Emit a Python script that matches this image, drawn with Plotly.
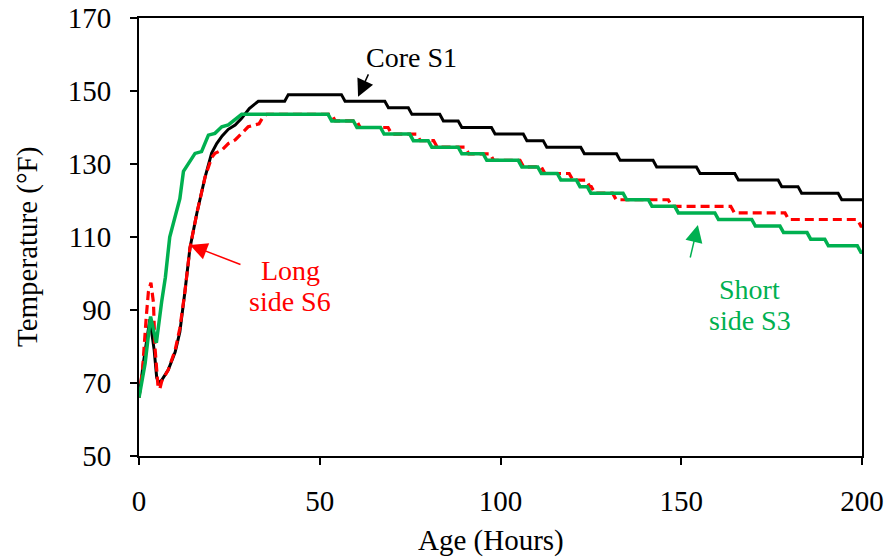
import plotly.graph_objects as go

# ---------------- data ----------------
# Early transient part (hours, °F)
black_rise_h = [0, 1.2, 3.0, 4.2, 4.9, 5.5, 6.3, 8.1, 10, 11.3, 12.7, 14.1, 16, 18.3, 20.1,
                21.5, 23, 24.7, 26.6, 28.4, 30.5, 33, 40.3, 41.3]
black_rise_T = [66, 75.4, 87.5, 79, 71.5, 70, 70.8, 73.6, 78.5, 84, 95, 107, 116.5, 126.5, 133,
                135.6, 137.7, 139.5, 140.7, 142.5, 145.2, 147.2, 147.2, 149]

red_rise_h = [0, 1.0, 2.0, 2.6, 3.3, 4.0, 4.4, 5.3, 5.8, 6.3, 8.1, 10, 11.3, 12.7, 14.1, 16,
              18.3, 20.1, 21, 22.9, 24.7, 26.6, 28.4, 30.2, 32, 33.2, 34.4, 35.3]
red_rise_T = [66, 74, 88, 95, 97.5, 92, 80, 68.5, 68.5, 70.5, 73.6, 79, 85, 95, 107, 116.5,
              126.5, 131.8, 132.9, 133.8, 135.6, 136.6, 138.4, 140.2, 140.7, 141, 143, 143.6]

green_rise_h = [0, 1.7, 3.2, 4.5, 4.8, 6.3, 7.3, 8.5, 10, 11.3, 12.3, 14.1, 15.5, 17.3, 19.2,
                21, 22.9, 24.7, 26.6, 28.4]
green_rise_T = [66, 75.4, 88.2, 81.5, 81, 92.5, 99, 110, 115.5, 120.5, 128, 130.6, 132.9,
                133.4, 137.9, 138.4, 140.2, 140.7, 142.1, 143.6]

# Cooling part: times (hours) at which the reading steps down, and the level after each step
black_drop_h = [56.5, 68.5, 75, 83.7, 88.8, 98, 106.8, 112.3, 122.7, 132.6, 142.7, 154.7,
                165.3, 177.3, 182.8, 193.9]
black_drop_T = [147.2, 145.4, 143.6, 141.8, 140, 138.2, 136.4, 134.6, 132.8, 131, 129.2,
                127.4, 125.6, 123.8, 122, 120.2]

red_drop_h = [53.8, 60.7, 69.4, 77.3, 82, 90.7, 97.6, 105.9, 111.8, 119.5, 124.2, 125.6,
              131.5, 146.9, 164.2, 179.2, 199.2]
red_drop_T = [141.8, 140, 138.2, 136.4, 134.6, 132.8, 131, 129.2, 127.4, 125.6, 123.8, 122,
              120.2, 118.4, 116.6, 114.8, 113]

green_drop_h = [52.8, 59.8, 67.3, 75.4, 80.5, 88.8, 95.7, 105.4, 110.8, 116.2, 121.5, 124.5,
                134.4, 141.4, 148.7, 159.8, 170, 177.8, 185.3, 190.2, 199.2]
green_drop_T = [141.8, 140, 138.2, 136.4, 134.6, 132.8, 131, 129.2, 127.4, 125.6, 123.8, 122,
                120.2, 118.4, 116.6, 114.8, 113, 111.2, 109.4, 107.6, 105.8]

end_hour = 200
x_ticks = [0, 50, 100, 150, 200]
y_ticks = [50, 70, 90, 110, 130, 150, 170]


def series(rise_h, rise_T, drop_h, drop_T, half=0.5):
    xs, ys = list(rise_h), list(rise_T)
    level = rise_T[-1]
    for t, new in zip(drop_h, drop_T):
        xs += [t - half, t + half]
        ys += [level, new]
        level = new
    xs.append(end_hour)
    ys.append(level)
    return xs, ys


bx, by = series(black_rise_h, black_rise_T, black_drop_h, black_drop_T)
rx, ry = series(red_rise_h, red_rise_T, red_drop_h, red_drop_T)
gx, gy = series(green_rise_h, green_rise_T, green_drop_h, green_drop_T)

FONT = "Liberation Serif"

fig = go.Figure()
fig.add_trace(go.Scatter(x=bx, y=by, mode="lines", name="Core S1",
                         line=dict(color="#000000", width=3)))
fig.add_trace(go.Scatter(x=rx, y=ry, mode="lines", name="Long side S6",
                         line=dict(color="#FF0000", width=3.2, dash="9px,5px")))
fig.add_trace(go.Scatter(x=gx, y=gy, mode="lines", name="Short side S3",
                         line=dict(color="#00B050", width=3.5)))

axis_common = dict(showgrid=False, zeroline=False, showline=True, linecolor="black",
                   linewidth=2, mirror=True, ticks="outside", ticklen=7, tickwidth=1.5,
                   tickcolor="black", automargin=False,
                   tickfont=dict(family=FONT, size=29, color="black"))

fig.update_layout(
    width=888, height=558,
    margin=dict(l=139, r=26, t=18, b=102, autoexpand=False),
    paper_bgcolor="white", plot_bgcolor="white",
    showlegend=False,
    font=dict(family=FONT, size=28, color="black"),
    xaxis=dict(range=[0, 200], tickvals=x_ticks, ticklabelstandoff=11, **axis_common),
    yaxis=dict(range=[50, 170], tickvals=y_ticks, ticklabelstandoff=13, **axis_common),
)

LBL = 28
annotations = [
    # axis titles
    dict(text="Age (Hours)", xref="paper", yref="paper", x=0.487, y=-0.192,
         showarrow=False, xanchor="center", yanchor="middle",
         font=dict(family=FONT, size=29)),
    dict(text="Temperature (°F)", xref="paper", yref="paper", x=-0.155, y=0.477,
         showarrow=False, textangle=-90, xanchor="center", yanchor="middle",
         font=dict(family=FONT, size=29)),
    # labels
    dict(text="Core S1", x=75.5, y=159.3, showarrow=False,
         font=dict(family=FONT, size=LBL, color="black")),
    dict(text="Long", x=41.8, y=100.8, showarrow=False,
         font=dict(family=FONT, size=LBL, color="#FF0000")),
    dict(text="side S6", x=41.8, y=92.2, showarrow=False,
         font=dict(family=FONT, size=LBL, color="#FF0000")),
    dict(text="Short", x=169, y=95.6, showarrow=False,
         font=dict(family=FONT, size=LBL, color="#00B050")),
    dict(text="side S3", x=169, y=87.0, showarrow=False,
         font=dict(family=FONT, size=LBL, color="#00B050")),
    # arrows
    dict(text="", x=60.6, y=148.4, ax=11, ay=-24, showarrow=True, arrowhead=2,
         arrowsize=2.3, arrowwidth=1.5, arrowcolor="black"),
    dict(text="", x=14.1, y=107.8, ax=52, ay=20, showarrow=True, arrowhead=2,
         arrowsize=2.3, arrowwidth=1.5, arrowcolor="#FF0000"),
    dict(text="", x=154.6, y=113.3, ax=-8, ay=34, showarrow=True, arrowhead=2,
         arrowsize=2.3, arrowwidth=1.5, arrowcolor="#00B050"),
]
fig.update_layout(annotations=annotations)

fig.write_html("out.html")
